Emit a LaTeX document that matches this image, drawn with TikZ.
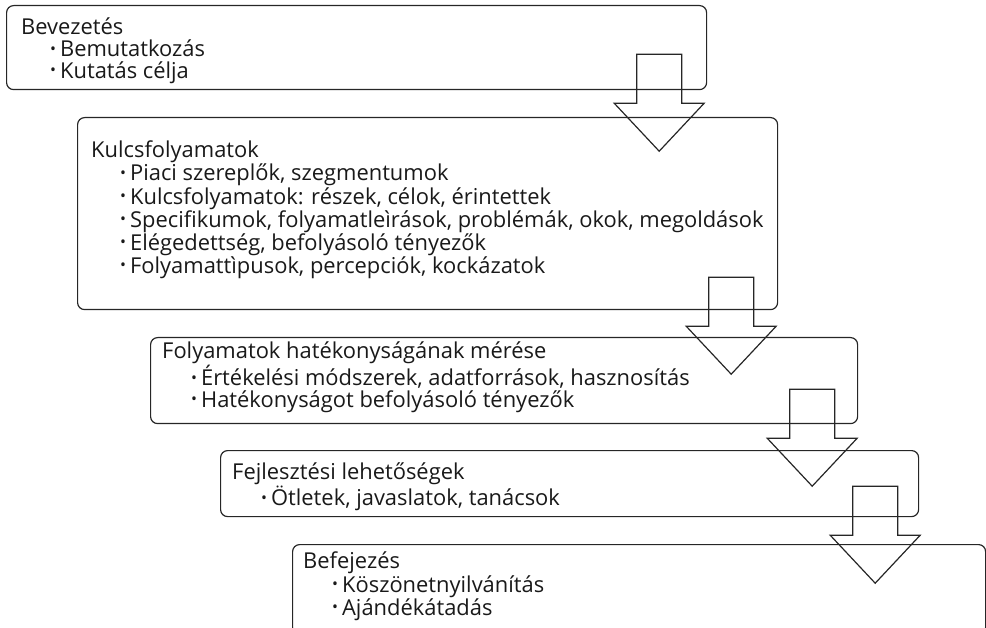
\documentclass[tikz,border=0pt]{standalone}
\usepackage{fontspec}
\setmainfont{Open Sans}
\tikzset{
  blockarrow/.pic={
    \draw[arr] (-22.5,0) -- (22.5,0) -- (22.5,49) -- (45,49) -- (0,97)
      -- (-45,49) -- (-22.5,49) -- cycle;
  }
}
\newcommand{\bul}[1]{\\\hspace*{29pt}\raisebox{0.11em}{\scalebox{0.72}{\textbullet}}\hspace{4pt}#1}

\begin{document}
\begin{tikzpicture}[
  x=1pt, y=-1pt,
  box/.style={rectangle, draw=black!85, line width=1.2pt, rounded corners=7pt,
    anchor=north west, inner sep=0pt},
  txt/.style={anchor=north west, align=left, inner sep=0pt,
    font=\fontsize{21.9}{21.6}\selectfont, text=black!90},
  arr/.style={draw=black!85, line width=1.2pt, line join=miter}
]
\clip (0,0) rectangle (986,628);
% step boxes
\node[box, minimum width=700pt, minimum height=84pt] (intro) at (6,5) {};
\node[box, minimum width=700pt, minimum height=192pt] (core) at (77,117) {};
\node[box, minimum width=707pt, minimum height=86pt] (meas) at (150,337) {};
\node[box, minimum width=698pt, minimum height=66pt] (dev) at (220,450) {};
\node[box, minimum width=693pt, minimum height=90pt] (end) at (292,544) {};
% texts
\node[txt] (introtext) at ([shift={(15,13)}]intro.north west)
  {Bevezetés\bul{Bemutatkozás}\bul{Kutatás célja}};
\node[txt] (coretext) at ([shift={(14,24)}]core.north west)
  {Kulcsfolyamatok\bul{Piaci szereplők, szegmentumok}\bul{Kulcsfolyamatok: részek, célok, érintettek}%
   \bul{Specifikumok, folyamatleìrások, problémák, okok, megoldások}%
   \bul{Elégedettség, befolyásoló tényezők}\bul{Folyamattìpusok, percepciók, kockázatok}};
\node[txt] (meastext) at ([shift={(12,5)}]meas.north west)
  {Folyamatok hatékonyságának mérése\bul{Értékelési módszerek, adatforrások, hasznosítás}%
   \bul{Hatékonyságot befolyásoló tényezők}};
\node[txt] (devtext) at ([shift={(12,13)}]dev.north west)
  {Fejlesztési lehetőségek\bul{Ötletek, javaslatok, tanácsok}};
\node[txt] (endtext) at ([shift={(11,8)}]end.north west)
  {Befejezés\bul{Köszönetnyilvánítás}\bul{Ajándékátadás}};
% arrows between the steps
\pic at ([xshift=-48pt, yshift=36pt]intro.south east) {blockarrow};
\pic at ([xshift=-47pt, yshift=33pt]core.south east) {blockarrow};
\pic at ([xshift=-46pt, yshift=35pt]meas.south east) {blockarrow};
\pic at ([xshift=-44pt, yshift=31pt]dev.south east) {blockarrow};
\end{tikzpicture}
\end{document}
